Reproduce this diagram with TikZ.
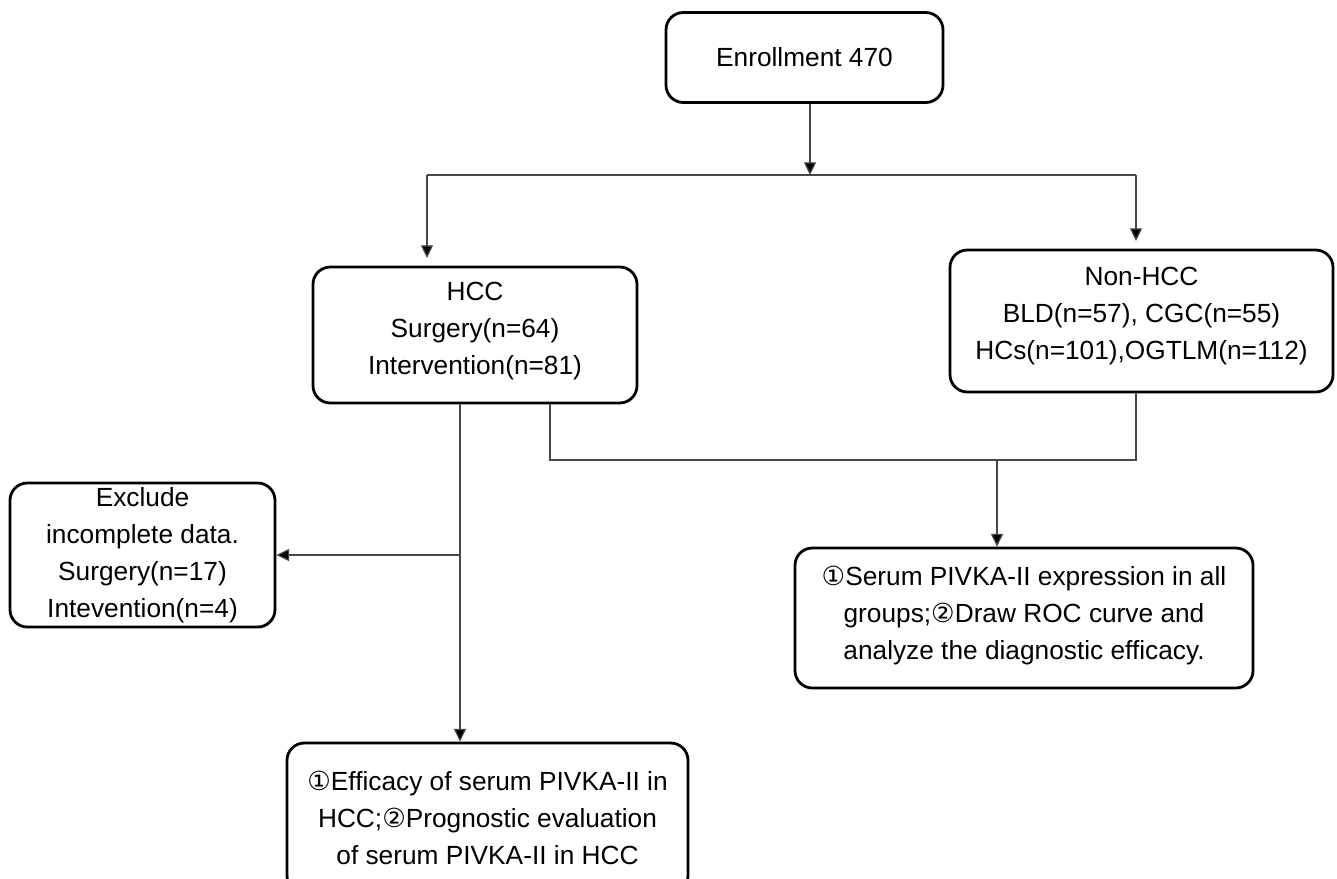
\documentclass[tikz,border=0pt]{standalone}
\usepackage{fontspec}
\setmainfont{Liberation Sans}
\newfontfamily\symfont{DejaVu Sans}
\usetikzlibrary{arrows.meta}
\newcommand{\cone}{{\symfont\char"2460}}
\newcommand{\ctwo}{{\symfont\char"2461}}
\begin{document}
\begin{tikzpicture}[x=0.75pt,y=-0.75pt,
  box/.style={draw=black, line width=2.1pt, rounded corners=13pt, align=center,
    inner sep=0pt, font=\fontsize{19.7}{27.8}\selectfont},
  conn/.style={draw=black!72, line width=0.9pt},
  arr/.style={conn, -{Triangle[length=9.5pt,width=9pt,fill=black]}}]
\path[use as bounding box, clip] (0,0) rectangle (1337,878);
\fill[white] (0,0) rectangle (1337,878);

\node[box, minimum width=277*0.75pt, minimum height=90*0.75pt] (enroll) at (804.5,57.5) {Enrollment 470};
\node[box, minimum width=324*0.75pt, minimum height=136*0.75pt, text depth=10pt] (hcc) at (475,335) {HCC\\ Surgery(n=64)\\ Intervention(n=81)};
\node[box, minimum width=383*0.75pt, minimum height=142*0.75pt, text depth=12pt] (non) at (1141.5,321) {Non-HCC\\ BLD(n=57), CGC(n=55)\\ HCs(n=101),OGTLM(n=112)};
\node[box, minimum width=265*0.75pt, minimum height=144*0.75pt] (excl) at (142.5,555) {Exclude\\ incomplete data.\\ Surgery(n=17)\\ Intevention(n=4)};
\node[box, minimum width=458*0.75pt, minimum height=140*0.75pt, text depth=8pt] (serum) at (1024,618) {\cone Serum PIVKA-II expression in all\\ groups;\ctwo Draw ROC curve and\\ analyze the diagnostic efficacy.};
\node[box, minimum width=401*0.75pt, minimum height=150*0.75pt] (eff) at (487.5,818) {\cone Efficacy of serum PIVKA-II in\\ HCC;\ctwo Prognostic evaluation\\ of serum PIVKA-II in HCC};

\coordinate (jtop) at (810,175);
\coordinate (jl) at (427,175);
\coordinate (jr) at (1136,175);
\coordinate (ltip) at (427,258);
\coordinate (rtip) at (1136,241);
\coordinate (hv) at (460,555);
\coordinate (jb) at (550,460);
\coordinate (jbr) at (1136,460);
\coordinate (jm) at (997,460);

\draw[arr] (enroll.south -| jtop) -- (jtop);
\draw[conn] (jl) -- (jr);
\draw[arr] (jl) -- (ltip);
\draw[arr] (jr) -- (rtip);
\draw[arr] (hcc.south -| hv) -- (eff.north -| hv);
\draw[arr] (hv) -- (excl.east |- hv);
\draw[conn] (hcc.south -| jb) -- (jb) -- (jbr) -- (non.south -| jbr);
\draw[arr] (jm) -- (serum.north -| jm);
\end{tikzpicture}
\end{document}
